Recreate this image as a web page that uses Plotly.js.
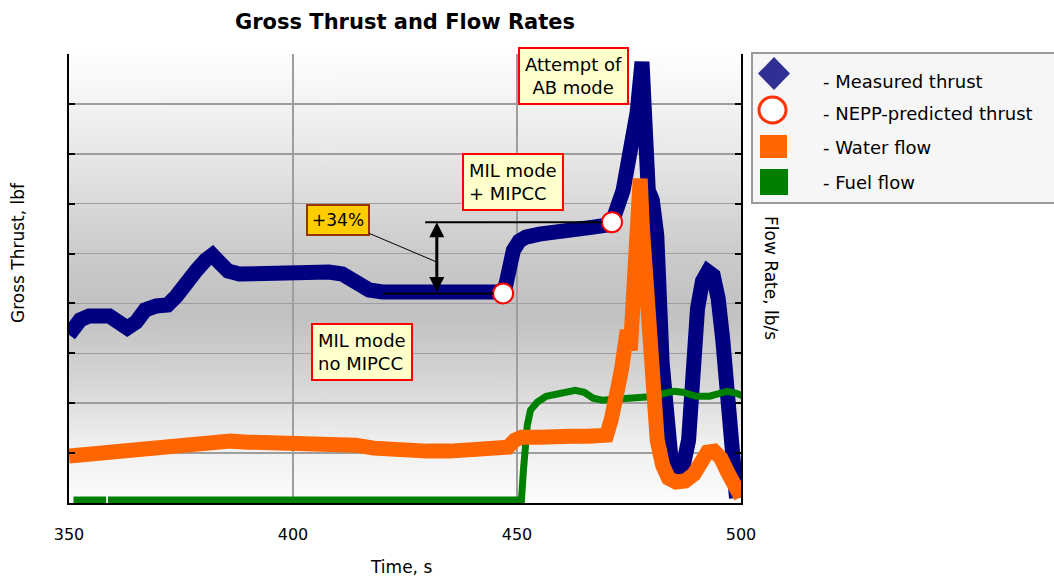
<!DOCTYPE html>
<html>
<head>
<meta charset="utf-8">
<script src="https://cdn.plot.ly/plotly-3.0.1.min.js"></script>
<style>
  html, body { margin: 0; padding: 0; background: #ffffff; }
  #chart { width: 1054px; height: 577px; }
</style>
</head>
<body>
<div id="chart"></div>
<script>
// Measured gross thrust, lbf
const thrustTime = [350, 351, 352.5, 354.5, 357, 359, 361, 363, 365, 367, 369.5, 372, 374, 376, 378.5,
  380.5, 382, 383.5, 385.5, 388, 392, 396, 400, 404, 408, 411, 413, 415, 417, 420, 425, 430, 435, 440, 444,
  446.5, 447.5, 448.3, 449.2, 450.5, 452, 455, 458, 461, 464, 467, 470, 471.4, 473.7, 475.2, 476.8, 477.9,
  478.4, 478.8, 479.3, 480.2, 481.2, 482.4, 483.5, 484.5, 485.7, 487, 488.3, 489.3, 490.3, 491.4, 492.6,
  493.8, 494.9, 495.9, 497.2, 498.2, 499];
const thrustLbf = [3370, 3530, 3670, 3750, 3790, 3750, 3630, 3510, 3630, 3870, 3950, 3970, 4150, 4430, 4670,
  4870, 4970, 4830, 4650, 4590, 4610, 4630, 4610, 4630, 4630, 4590, 4470, 4350, 4270, 4230, 4210, 4230, 4230, 4230, 4230,
  4230, 4370, 4770, 5070, 5250, 5330, 5390, 5410, 5450, 5490, 5530, 5570, 5670, 6270, 6930, 7820, 8840,
  7680, 6470, 6270, 6070, 5370, 2810, 1160, 760, 660, 700, 1260, 2810, 3900, 4450, 4640,
  4560, 4100, 3300, 1900, 700, 100];

// NEPP-predicted thrust at the two steady MIL points, lbf
const neppTime = [446.9, 471.2];
const neppLbf = [4200, 5630];

// Water flow, lb/s
const waterTime = [350, 352, 355, 358, 361, 364, 367, 370, 373, 376, 379, 382, 386, 390, 395, 400, 405, 410,
  414, 418, 422, 426, 430, 435, 440, 445, 448, 449.5, 451, 455, 458, 462, 466, 470, 471, 471.6, 472.5, 473.3,
  474, 474.6, 475.3, 475.8, 476.2, 476.7, 477.5, 478.0, 478.6, 479.3, 480.2, 481.3, 482.5, 483.8, 485.5,
  487.5, 489.5, 491, 492.5, 494, 495.5, 497, 498.5, 500];
const waterFlow = [0.47, 0.48, 0.50, 0.51, 0.51, 0.53, 0.54, 0.56, 0.57, 0.59, 0.61, 0.62, 0.62, 0.61, 0.61, 0.60, 0.60, 0.60,
  0.58, 0.55, 0.53, 0.53, 0.52, 0.52, 0.53, 0.53, 0.56, 0.63, 0.66, 0.66, 0.68, 0.67, 0.67, 0.68, 0.83, 1.11, 1.15, 1.33,
  1.58, 1.73, 1.53, 1.95, 2.30, 3.25, 3.25, 2.75, 2.30, 1.60, 1.00, 0.63, 0.38, 0.25, 0.21,
  0.22, 0.29, 0.41, 0.51, 0.52, 0.45, 0.31, 0.15, 0.06];

// Fuel flow, lb/s (one dropped sample near 358.5 s)
const fuelTime = [351, 358.3, 358.5, 358.7, 400, 451, 451.4, 451.8, 452.3, 453, 454.5, 456.5, 459, 461, 463,
  465, 467, 469, 472, 475, 478, 481, 483, 485, 487, 490, 493, 495, 497, 499, 500.5];
const fuelFlow = [0.03, 0.03, null, 0.03, 0.03, 0.03, 0.31, 0.51, 0.78, 0.93, 1.01, 1.07, 1.10, 1.12, 1.13,
  1.11, 1.05, 1.03, 1.04, 1.05, 1.06, 1.07, 1.10, 1.12, 1.11, 1.07, 1.07, 1.09, 1.12, 1.10, 1.07];

const timeTicks = [350, 400, 450, 500];
const seriesNames = ['- Measured thrust', '- NEPP-predicted thrust', '- Water flow', '- Fuel flow'];

// ---- styling ----
const FONT = 'DejaVu Sans';
const NAVY = '#000080', ORANGE = '#ff6600', GREEN = '#008000', RED = '#ff0000';
const W = 1054, H = 577;
const M = { l: 69, r: 313, t: 54, b: 74 };
const PW = W - M.l - M.r, PH = H - M.t - M.b;
// pixel position -> paper fraction (for decoration placed outside the data area)
const px = v => (v - M.l) / PW;
const py = v => (H - M.b - v) / PH;

// soft grey band behind the plot area
function plotBackground() {
  const c = document.createElement('canvas');
  c.width = 4; c.height = PH;
  const g = c.getContext('2d');
  const lg = g.createLinearGradient(0, 0, 0, PH);
  lg.addColorStop(0.00, '#fefefe');
  lg.addColorStop(0.22, '#e8e8e8');
  lg.addColorStop(0.45, '#cacaca');
  lg.addColorStop(0.58, '#c1c1c1');
  lg.addColorStop(0.73, '#d6d6d6');
  lg.addColorStop(0.86, '#eeeeee');
  lg.addColorStop(1.00, '#fcfcfc');
  g.fillStyle = lg;
  g.fillRect(0, 0, 4, PH);
  return c.toDataURL();
}

const traces = [
  { x: thrustTime, y: thrustLbf, type: 'scatter', mode: 'lines', yaxis: 'y',
    line: { color: NAVY, width: 15 }, name: seriesNames[0], hoverinfo: 'skip' },
  { x: fuelTime, y: fuelFlow, type: 'scatter', mode: 'lines', yaxis: 'y2',
    line: { color: GREEN, width: 7 }, name: seriesNames[3], connectgaps: false, hoverinfo: 'skip' },
  { x: waterTime, y: waterFlow, type: 'scatter', mode: 'lines', yaxis: 'y2',
    line: { color: ORANGE, width: 15 }, name: seriesNames[2], hoverinfo: 'skip' },
  { x: neppTime, y: neppLbf, type: 'scatter', mode: 'markers', yaxis: 'y3',
    marker: { symbol: 'circle', size: 20, color: '#ffffff', line: { color: RED, width: 2 } },
    name: seriesNames[1], hoverinfo: 'skip' }
];

const gain = Math.round((neppLbf[1] / neppLbf[0] - 1) * 100);
const arrowX = 432.1;

const noteBox = { bgcolor: '#ffffcc', bordercolor: RED, borderwidth: 2, borderpad: 5,
  font: { family: FONT, size: 18, color: '#000' }, showarrow: false, xref: 'x', yref: 'y' };
const axisTitle = { xref: 'paper', yref: 'paper', xanchor: 'center', yanchor: 'middle', showarrow: false,
  font: { family: FONT, size: 17, color: '#000' } };

const annotations = [
  // axis titles
  Object.assign({}, axisTitle, { text: 'Time, s', x: px(401), y: py(567) }),
  Object.assign({}, axisTitle, { text: 'Gross Thrust, lbf', x: px(18), y: py(253), textangle: -90 }),
  Object.assign({}, axisTitle, { text: 'Flow Rate, lb/s', x: px(771), y: py(278), textangle: 90 }),
  // mode notes
  Object.assign({}, noteBox, { text: 'Attempt of<br>AB mode', x: 462.6, y: 8567, align: 'center' }),
  Object.assign({}, noteBox, { text: 'MIL mode<br>+ MIPCC', x: 449.0, y: 6443, align: 'left' }),
  Object.assign({}, noteBox, { text: 'MIL mode<br>no MIPCC', x: 415.5, y: 3026, align: 'left' }),
  // thrust gain between predicted points
  { text: '', x: arrowX, y: neppLbf[1], ax: arrowX, ay: neppLbf[0], xref: 'x', yref: 'y', axref: 'x', ayref: 'y',
    showarrow: true, arrowside: 'end+start', arrowhead: 2, arrowsize: 1, arrowwidth: 3, arrowcolor: '#000' },
  { text: '+' + gain + '%', x: arrowX, y: 4830, ax: 410.0, ay: 5671, xref: 'x', yref: 'y', axref: 'x', ayref: 'y',
    showarrow: true, arrowhead: 0, arrowwidth: 1, arrowcolor: '#000',
    bgcolor: '#ffcc00', bordercolor: '#993300', borderwidth: 2, borderpad: 4,
    font: { family: FONT, size: 17, color: '#000' } }
];

// legend entries
const legendRows = [81, 114, 148, 182];
seriesNames.forEach((s, i) => annotations.push({
  text: s, xref: 'paper', yref: 'paper', x: px(821), y: py(legendRows[i]), xanchor: 'left', yanchor: 'middle',
  showarrow: false, font: { family: FONT, size: 18, color: '#000' }
}));

const shapes = [
  // reference levels for the gain arrow
  { type: 'line', xref: 'x', yref: 'y', x0: 429.5, x1: neppTime[1] - 2.2, y0: neppLbf[1], y1: neppLbf[1],
    line: { color: '#000', width: 2 } },
  { type: 'line', xref: 'x', yref: 'y', x0: 420.1, x1: neppTime[0] - 2.2, y0: neppLbf[0], y1: neppLbf[0],
    line: { color: '#000', width: 2 } },
  // legend frame and symbols
  { type: 'rect', xref: 'paper', yref: 'paper', x0: px(752), x1: px(1070), y0: py(53), y1: py(203),
    fillcolor: '#f6f6f6', line: { color: '#9a9a9a', width: 2 } },
  { type: 'path', xref: 'paper', yref: 'paper',
    path: `M ${px(758)} ${py(73.5)} L ${px(774)} ${py(57)} L ${px(790)} ${py(73.5)} L ${px(774)} ${py(90)} Z`,
    fillcolor: '#2f2f94', line: { width: 0 } },
  { type: 'circle', xref: 'paper', yref: 'paper', x0: px(759), x1: px(786), y0: py(97), y1: py(123),
    fillcolor: '#ffffff', line: { color: '#ff3300', width: 3 } },
  { type: 'rect', xref: 'paper', yref: 'paper', x0: px(760), x1: px(787), y0: py(135), y1: py(158),
    fillcolor: ORANGE, line: { width: 0 } },
  { type: 'rect', xref: 'paper', yref: 'paper', x0: px(760), x1: px(788), y0: py(169), y1: py(195),
    fillcolor: GREEN, line: { width: 0 } }
];

const layout = {
  width: W, height: H,
  margin: M,
  paper_bgcolor: '#ffffff',
  plot_bgcolor: 'rgba(0,0,0,0)',
  showlegend: false,
  title: { text: 'Gross Thrust and Flow Rates', xref: 'paper', x: 0.5, yref: 'container', y: 1 - 22 / H,
    yanchor: 'middle', font: { family: FONT, size: 21, weight: 'bold', color: '#000' } },
  images: [{ source: plotBackground(), xref: 'paper', yref: 'paper', x: 0, y: 1, sizex: 1, sizey: 1,
    sizing: 'stretch', xanchor: 'left', yanchor: 'top', layer: 'below' }],
  xaxis: { range: [350, 500], tickvals: timeTicks, ticks: '', showgrid: true, gridcolor: '#9e9e9e', gridwidth: 1.6,
    showline: true, linecolor: '#000', linewidth: 2, zeroline: false, ticklabelstandoff: 16,
    tickfont: { family: FONT, size: 16, color: '#000' } },
  yaxis: { range: [0, 9000], tick0: 0, dtick: 1000, showticklabels: false, ticks: 'inside', ticklen: 6,
    tickwidth: 2, tickcolor: '#000', showline: true, linecolor: '#000', linewidth: 2, showgrid: true,
    gridcolor: '#9e9e9e', gridwidth: 1.6, zeroline: false },
  yaxis2: { overlaying: 'y', side: 'right', range: [0, 4.5], tick0: 0, dtick: 0.5, showticklabels: false,
    ticks: 'inside', ticklen: 6, tickwidth: 2, tickcolor: '#000', showline: true, linecolor: '#000',
    linewidth: 2, showgrid: false, zeroline: false },
  yaxis3: { overlaying: 'y', range: [0, 9000], visible: false },
  annotations: annotations,
  shapes: shapes
};

Plotly.newPlot('chart', traces, layout, { staticPlot: true, displayModeBar: false });
</script>
</body>
</html>
